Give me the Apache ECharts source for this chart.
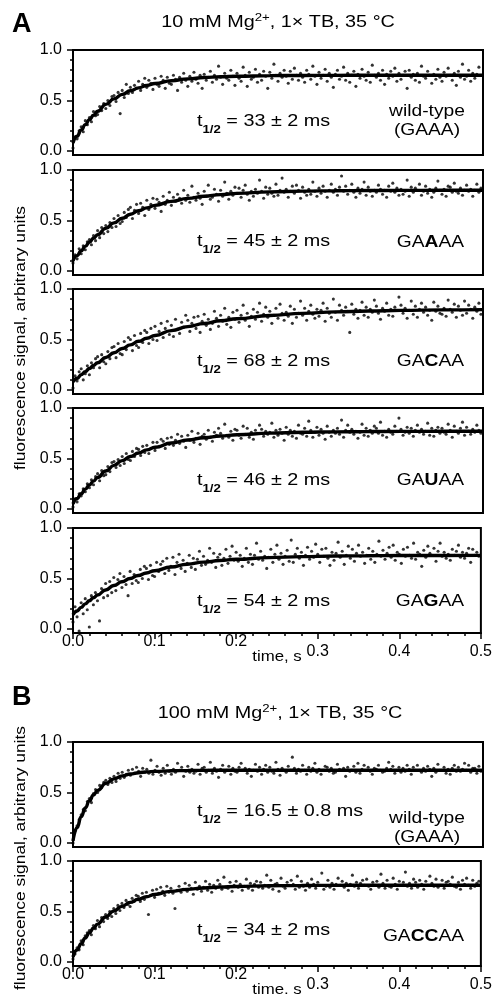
<!DOCTYPE html>
<html><head><meta charset="utf-8">
<script src="https://cdn.jsdelivr.net/npm/echarts@6/dist/echarts.min.js"></script>
<style>html,body{margin:0;padding:0;background:#fff}#c{width:495px;height:994px}</style>
</head><body><div id="c"></div>
<script>
// ---------- DATA ----------
const time = [
0,.0025,.005,.0075,.01,.0125,.015,.0175,.02,.0225,.025,.0275,.03,.0325,.035,.0375,.04,.0425,.045,.0475,
.05,.0525,.055,.0575,.06,.0625,.065,.0675,.07,.0725,.075,.0775,.08,.0825,.085,.0875,.09,.0925,.095,.0975,
.1,.1025,.105,.1075,.11,.1125,.115,.1175,.12,.1225,.125,.1275,.13,.1325,.135,.1375,.14,.1425,.145,.1475,
.15,.1525,.155,.1575,.16,.1625,.165,.1675,.17,.1725,.175,.1775,.18,.1825,.185,.1875,.19,.1925,.195,.1975,
.2,.2025,.205,.2075,.21,.2125,.215,.2175,.22,.2225,.225,.2275,.23,.2325,.235,.2375,.24,.2425,.245,.2475,
.25,.2525,.255,.2575,.26,.2625,.265,.2675,.27,.2725,.275,.2775,.28,.2825,.285,.2875,.29,.2925,.295,.2975,
.3,.3025,.305,.3075,.31,.3125,.315,.3175,.32,.3225,.325,.3275,.33,.3325,.335,.3375,.34,.3425,.345,.3475,
.35,.3525,.355,.3575,.36,.3625,.365,.3675,.37,.3725,.375,.3775,.38,.3825,.385,.3875,.39,.3925,.395,.3975,
.4,.4025,.405,.4075,.41,.4125,.415,.4175,.42,.4225,.425,.4275,.43,.4325,.435,.4375,.44,.4425,.445,.4475,
.45,.4525,.455,.4575,.46,.4625,.465,.4675,.47,.4725,.475,.4775,.48,.4825,.485,.4875,.49,.4925,.495,.4975];

const wtA = [
.03,.14,.12,.20,.24,.19,.30,.26,.33,.29,.39,.35,.36,.44,.40,.47,.42,.50,.45,.54,
.55,.49,.58,.37,.60,.53,.66,.57,.63,.58,.65,.62,.69,.60,.66,.72,.63,.70,.67,.61,
.72,.66,.64,.74,.70,.62,.73,.67,.66,.75,.71,.60,.73,.68,.77,.70,.64,.74,.69,.78,
.71,.67,.75,.62,.76,.70,.73,.79,.68,.75,.71,.84,.73,.66,.77,.72,.70,.80,.74,.65,
.77,.72,.69,.83,.75,.64,.78,.71,.73,.81,.68,.76,.70,.79,.74,.62,.78,.72,.86,.75,
.69,.77,.73,.80,.74,.67,.79,.71,.82,.75,.70,.77,.73,.68,.80,.76,.71,.84,.74,.66,
.78,.72,.75,.81,.69,.77,.73,.63,.76,.80,.71,.74,.83,.70,.77,.68,.75,.79,.64,.76,
.72,.81,.74,.70,.78,.68,.85,.75,.73,.77,.70,.80,.66,.76,.72,.79,.74,.82,.69,.77,
.71,.75,.79,.62,.80,.73,.76,.70,.77,.68,.84,.74,.72,.79,.75,.67,.76,.71,.81,.73,
.69,.78,.74,.82,.75,.70,.77,.65,.79,.73,.86,.71,.74,.80,.69,.77,.72,.76,.83,.75];

const gaaaa = [
.08,.16,.12,.22,.17,.25,.21,.29,.31,.26,.35,.30,.40,.33,.43,.37,.45,.39,.48,.43,
.52,.44,.55,.47,.49,.58,.53,.61,.63,.52,.60,.66,.57,.67,.63,.55,.70,.61,.66,.72,
.62,.71,.68,.59,.74,.66,.70,.78,.65,.73,.69,.76,.72,.67,.80,.70,.75,.68,.84,.73,
.70,.77,.72,.66,.79,.74,.85,.71,.73,.81,.76,.69,.80,.74,.88,.77,.71,.79,.75,.83,
.77,.82,.73,.80,.85,.76,.70,.79,.74,.81,.77,.90,.79,.72,.83,.76,.82,.77,.74,.86,
.75,.80,.92,.78,.81,.73,.79,.84,.77,.85,.80,.72,.83,.78,.75,.81,.76,.88,.79,.74,
.82,.77,.84,.79,.73,.80,.86,.78,.81,.75,.83,.94,.79,.84,.76,.80,.86,.78,.73,.82,
.77,.81,.88,.75,.83,.79,.74,.80,.78,.85,.81,.76,.80,.73,.84,.79,.87,.78,.82,.75,
.81,.76,.79,.90,.74,.83,.78,.82,.80,.86,.75,.79,.84,.77,.81,.73,.78,.82,.89,.80,
.76,.81,.74,.84,.83,.78,.87,.79,.77,.82,.75,.80,.85,.79,.81,.74,.80,.86,.78,.82];

const gacaa = [
.02,.14,.09,.18,.21,.10,.16,.24,.15,.27,.22,.31,.33,.22,.35,.28,.26,.38,.31,.42,
.43,.32,.46,.36,.35,.48,.40,.52,.50,.39,.54,.44,.42,.56,.47,.59,.57,.46,.61,.50,
.63,.49,.58,.66,.52,.61,.68,.55,.64,.53,.70,.60,.56,.67,.62,.74,.69,.58,.66,.72,
.61,.73,.57,.68,.75,.64,.70,.60,.66,.78,.71,.63,.74,.68,.81,.65,.72,.62,.77,.70,
.79,.67,.74,.84,.69,.76,.63,.73,.80,.70,.77,.86,.68,.75,.82,.72,.78,.66,.74,.81,
.71,.85,.76,.69,.77,.73,.83,.66,.80,.72,.76,.88,.74,.81,.69,.78,.84,.75,.71,.80,
.73,.79,.86,.68,.81,.76,.72,.90,.77,.69,.84,.79,.74,.82,.78,.57,.85,.75,.80,.71,
.79,.87,.74,.82,.72,.80,.77,.89,.83,.76,.70,.81,.78,.86,.74,.80,.73,.82,.79,.92,
.84,.76,.81,.71,.79,.88,.75,.83,.72,.80,.86,.77,.82,.74,.79,.69,.87,.78,.83,.76,
.75,.81,.73,.89,.80,.77,.85,.72,.83,.79,.74,.88,.76,.84,.80,.71,.82,.78,.86,.75];

const gauaa = [
.02,.10,.07,.15,.13,.20,.17,.25,.21,.29,.24,.32,.35,.28,.38,.33,.34,.42,.37,.46,
.47,.41,.49,.43,.52,.45,.55,.49,.48,.57,.52,.60,.59,.53,.62,.56,.63,.55,.60,.66,
.58,.66,.62,.69,.67,.60,.70,.64,.71,.63,.68,.74,.65,.72,.67,.61,.73,.68,.77,.66,
.70,.75,.64,.72,.74,.69,.78,.71,.67,.76,.73,.80,.75,.70,.84,.73,.71,.77,.68,.79,
.78,.73,.70,.82,.74,.80,.71,.76,.69,.78,.75,.83,.79,.72,.77,.74,.76,.85,.71,.78,
.73,.79,.75,.68,.81,.74,.78,.72,.77,.70,.83,.75,.74,.80,.72,.87,.78,.71,.76,.81,
.73,.79,.75,.69,.82,.76,.72,.78,.75,.80,.74,.88,.71,.78,.83,.76,.79,.74,.77,.70,
.76,.84,.73,.80,.72,.78,.75,.82,.80,.75,.86,.73,.77,.71,.79,.76,.74,.82,.77,.90,
.79,.73,.76,.81,.75,.80,.72,.78,.83,.76,.79,.74,.77,.85,.73,.80,.72,.78,.81,.75,
.80,.76,.74,.84,.78,.71,.82,.77,.75,.80,.86,.73,.81,.77,.74,.79,.76,.83,.78,.75];

const gagaa = [
.07,.22,.12,-.02,.26,.15,.30,.19,.02,.33,.24,.36,.28,.08,.40,.31,.45,.33,.47,.36,
.51,.38,.49,.55,.41,.52,.44,.33,.57,.45,.54,.48,.46,.59,.50,.62,.60,.49,.63,.53,
.52,.66,.57,.64,.67,.55,.70,.58,.62,.71,.54,.66,.74,.60,.68,.57,.65,.73,.61,.70,
.59,.69,.77,.63,.72,.64,.68,.80,.66,.75,.61,.71,.74,.63,.70,.79,.65,.72,.82,.68,
.76,.67,.73,.62,.70,.80,.66,.74,.64,.73,.85,.69,.77,.68,.72,.60,.71,.79,.66,.74,
.83,.69,.75,.64,.72,.78,.67,.88,.66,.74,.80,.70,.76,.63,.73,.81,.69,.77,.71,.84,
.74,.66,.79,.72,.80,.70,.63,.76,.68,.75,.86,.71,.77,.64,.73,.82,.70,.79,.67,.75,
.83,.72,.76,.65,.73,.80,.69,.77,.66,.74,.87,.72,.78,.69,.75,.81,.71,.83,.68,.76,
.74,.65,.79,.72,.81,.73,.70,.85,.69,.76,.74,.62,.78,.71,.82,.75,.73,.80,.67,.77,
.85,.72,.76,.70,.74,.68,.79,.73,.77,.83,.71,.76,.70,.75,.80,.66,.79,.73,.76,.72];

const wtB = [
.00,.12,.17,.23,.28,.33,.32,.41,.44,.40,.49,.53,.50,.57,.55,.60,.62,.58,.64,.60,
.66,.61,.69,.64,.70,.65,.68,.72,.67,.73,.69,.75,.71,.66,.74,.70,.73,.69,.82,.68,
.72,.76,.70,.67,.74,.69,.77,.71,.68,.73,.70,.79,.72,.75,.66,.71,.76,.70,.73,.69,
.71,.78,.68,.74,.75,.70,.72,.80,.69,.74,.71,.65,.73,.77,.70,.72,.76,.68,.74,.71,
.70,.75,.79,.72,.74,.69,.73,.66,.72,.78,.71,.75,.68,.73,.77,.70,.75,.71,.69,.80,
.73,.67,.74,.72,.70,.76,.72,.85,.74,.69,.73,.71,.77,.72,.68,.75,.71,.74,.79,.70,
.73,.68,.72,.76,.75,.71,.74,.69,.70,.78,.73,.72,.74,.66,.75,.71,.72,.76,.70,.79,
.69,.73,.77,.72,.75,.71,.68,.74,.73,.77,.72,.70,.71,.74,.80,.73,.76,.69,.72,.75,
.70,.74,.71,.77,.73,.68,.75,.72,.77,.72,.70,.74,.71,.76,.73,.66,.74,.70,.78,.72,
.72,.75,.69,.73,.68,.74,.77,.71,.75,.71,.73,.79,.72,.77,.70,.74,.74,.69,.76,.71];

const gaccaa = [
.03,.08,.14,.12,.21,.17,.26,.29,.31,.27,.36,.33,.41,.35,.44,.40,.47,.43,.50,.45,
.53,.48,.56,.51,.58,.54,.61,.57,.55,.63,.60,.66,.65,.60,.68,.62,.69,.47,.66,.71,
.64,.72,.68,.74,.70,.66,.75,.69,.73,.68,.53,.71,.75,.69,.72,.78,.70,.76,.73,.67,
.79,.72,.75,.70,.74,.80,.71,.77,.69,.76,.73,.81,.77,.72,.84,.74,.73,.79,.70,.76,
.80,.74,.77,.71,.75,.82,.73,.78,.71,.77,.80,.74,.79,.73,.76,.86,.74,.81,.72,.77,
.78,.70,.83,.75,.73,.79,.76,.81,.77,.72,.85,.74,.80,.75,.71,.78,.74,.82,.77,.73,
.79,.76,.88,.72,.75,.81,.74,.78,.72,.77,.83,.76,.80,.74,.78,.71,.77,.86,.75,.79,
.73,.78,.81,.76,.82,.75,.72,.79,.76,.80,.74,.87,.78,.73,.81,.75,.74,.83,.77,.72,
.80,.76,.79,.89,.75,.78,.73,.82,.79,.74,.81,.77,.72,.80,.76,.85,.78,.75,.82,.74,
.76,.81,.73,.79,.80,.77,.84,.75,.74,.79,.72,.81,.77,.83,.76,.73,.81,.75,.78,.80];

const fitTime = [0,.005,.01,.015,.02,.025,.03,.04,.05,.06,.07,.08,.09,.10,.12,.14,.16,.18,.20,.24,.28,.32,.36,.40,.45,.50];
const fitWtA    = [.08,.147,.207,.261,.31,.353,.393,.461,.516,.56,.596,.625,.649,.668,.696,.714,.727,.735,.74,.746,.748,.749,.75,.75,.75,.75];
const fitGaaaa  = [.10,.152,.20,.244,.285,.324,.359,.422,.476,.522,.562,.596,.625,.65,.689,.719,.74,.756,.768,.783,.791,.795,.797,.798,.799,.80];
const fitGacaa  = [.08,.116,.15,.182,.213,.242,.27,.321,.368,.41,.447,.482,.512,.54,.588,.627,.659,.685,.706,.738,.759,.773,.782,.788,.793,.796];
const fitGauaa  = [.05,.103,.151,.196,.238,.276,.312,.376,.432,.479,.52,.555,.585,.611,.653,.683,.706,.722,.735,.751,.76,.764,.767,.768,.769,.77];
const fitGagaa  = [.14,.178,.214,.248,.28,.309,.336,.386,.43,.467,.50,.53,.555,.577,.613,.641,.662,.678,.69,.707,.716,.722,.725,.727,.728,.729];
const fitWtB    = [.02,.153,.26,.347,.418,.475,.521,.59,.635,.664,.683,.696,.704,.709,.715,.718,.719,.72,.72,.72,.72,.72,.72,.72,.72,.72];
const fitGaccaa = [.05,.119,.181,.237,.288,.334,.375,.446,.504,.551,.59,.621,.646,.668,.699,.719,.733,.742,.748,.755,.758,.759,.76,.76,.76,.76];

const yMajorTicks = [0, 0.5, 1.0];
const yMinorTicks = [0.1, 0.2, 0.3, 0.4, 0.6, 0.7, 0.8, 0.9];
const xLabelsHigh = [0, 0.1, 0.2];
const xLabelsLow = [0.3, 0.4, 0.5];
const halfTimes = ['33 ± 2', '45 ± 2', '68 ± 2', '46 ± 2', '54 ± 2', '16.5 ± 0.8', '34 ± 2'];
const variants = [['wild-type', '(GAAA)'], ['GA', 'A', 'AA'], ['GA', 'C', 'AA'], ['GA', 'U', 'AA'], ['GA', 'G', 'AA'], ['wild-type', '(GAAA)'], ['GA', 'CC', 'AA']];
const titleA = ['10 mM Mg', '2+', ', 1× TB, 35 °C'];
const titleB = ['100 mM Mg', '2+', ', 1× TB, 35 °C'];
const yTitle = 'fluorescence signal, arbitrary units';
const xTitle = 'time, s';

// ---------- LAYOUT ----------
const FONT = 'Arial, "Liberation Sans", Helvetica, sans-serif';
const SX = 1.2;
const tops = [50, 170, 289, 408, 528, 742, 861];
const halfY = [122, 242, 362, 481, 602, 812, 931];
const varY = [[112, 131], 243, 362, 481, 602, [819, 838], 937];
const bottomPanels = [4, 6];
const scatterSets = [wtA, gaaaa, gacaa, gauaa, gagaa, wtB, gaccaa];
const fitSets = [fitWtA, fitGaaaa, fitGacaa, fitGauaa, fitGagaa, fitWtB, fitGaccaa];

const grid = [], xAxis = [], yAxis = [], series = [], graphic = [];
const blk = '#000';
const LBL = 16;
tops.forEach((top, i) => {
  grid.push({left: 73, width: 410, top: top, height: 105, show: true, borderColor: blk, borderWidth: 2, backgroundColor: 'transparent'});
  const isBottom = bottomPanels.includes(i);
  xAxis.push({
    gridIndex: i, type: 'value', position: 'bottom', min: 0, max: 0.5, interval: 0.1,
    axisLine: {show: true, onZero: false, lineStyle: {color: blk, width: 2}},
    axisTick: {show: isBottom, length: 6, lineStyle: {color: blk, width: 1.5}},
    minorTick: {show: isBottom, splitNumber: 5, length: 3, lineStyle: {color: blk, width: 1.5}},
    axisLabel: isBottom ? {show: true, customValues: xLabelsHigh, margin: 1, fontSize: LBL, fontFamily: FONT, color: blk, formatter: v => v.toFixed(1)} : {show: false},
    splitLine: {show: false}, minorSplitLine: {show: false}
  });
  yAxis.push({
    gridIndex: i, type: 'value', min: -0.04, max: 1.0, position: 'left',
    axisLine: {show: true, onZero: false, lineStyle: {color: blk, width: 2}},
    axisTick: {show: true, length: 6, customValues: yMajorTicks, lineStyle: {color: blk, width: 1.5}},
    axisLabel: {show: true, customValues: yMajorTicks, margin: 11, fontSize: LBL, fontFamily: FONT, color: blk, formatter: v => v.toFixed(1)},
    splitLine: {show: false}
  });
  yAxis.push({
    gridIndex: i, type: 'value', min: -0.04, max: 1.0, position: 'left', offset: 0,
    axisLine: {show: false, onZero: false},
    axisTick: {show: true, length: 3, customValues: yMinorTicks, lineStyle: {color: blk, width: 1.5}},
    axisLabel: {show: false}, splitLine: {show: false}
  });
  series.push({
    type: 'scatter', xAxisIndex: i, yAxisIndex: 2 * i, symbol: 'circle', symbolSize: 3.1,
    itemStyle: {color: blk}, silent: true,
    data: time.map((t, j) => [t, scatterSets[i][j]])
  });
  series.push({
    type: 'line', xAxisIndex: i, yAxisIndex: 2 * i, showSymbol: false, smooth: true, smoothMonotone: 'x',
    lineStyle: {color: blk, width: 3.4}, silent: true, z: 5,
    data: fitTime.map((t, j) => [t, fitSets[i][j]])
  });
  graphic.push({type: 'text', x: 197, y: halfY[i] - 9, scaleX: SX, silent: true, style: {
    text: '{n|t}{s|1/2}{n| = ' + halfTimes[i] + ' ms}', align: 'left', verticalAlign: 'top',
    rich: {n: {fontSize: 16.5, fontFamily: FONT, fill: blk, lineHeight: 22, verticalAlign: 'top'},
           s: {fontSize: 11, fontWeight: 'bold', fontFamily: FONT, fill: blk, lineHeight: 10, verticalAlign: 'bottom'}}
  }});
  const v = variants[i];
  if (v.length === 2) {
    graphic.push({type: 'text', x: 427, y: varY[i][0], scaleX: SX, silent: true, style: {text: v[0], align: 'center', verticalAlign: 'middle', fontSize: 16, fontFamily: FONT, fill: blk}});
    graphic.push({type: 'text', x: 427, y: varY[i][1], scaleX: SX, silent: true, style: {text: v[1], align: 'center', verticalAlign: 'middle', fontSize: 16, fontFamily: FONT, fill: blk}});
  } else {
    graphic.push({type: 'text', x: 464, y: varY[i], scaleX: SX, silent: true, style: {
      text: '{n|' + v[0] + '}{b|' + v[1] + '}{n|' + v[2] + '}', align: 'right', verticalAlign: 'middle',
      rich: {n: {fontSize: 16, fontFamily: FONT, fill: blk}, b: {fontSize: 16, fontWeight: 'bold', fontFamily: FONT, fill: blk}}
    }});
  }
});
bottomPanels.forEach(gi => {
  xAxis.push({
    gridIndex: gi, type: 'value', position: 'bottom', offset: 0, min: 0, max: 0.5, interval: 0.1,
    axisLine: {show: false, onZero: false}, axisTick: {show: false}, minorTick: {show: false},
    axisLabel: {show: true, customValues: xLabelsLow, margin: 11, fontSize: LBL, fontFamily: FONT, color: blk, formatter: v => v.toFixed(1)},
    splitLine: {show: false}
  });
});

function richTitle(parts, x, y) {
  return {type: 'text', x: x, y: y, scaleX: SX, silent: true, style: {
    text: '{n|' + parts[0] + '}{s|' + parts[1] + '}{n|' + parts[2] + '}', align: 'center', verticalAlign: 'middle',
    rich: {n: {fontSize: 16.5, fontFamily: FONT, fill: blk, lineHeight: 20},
           s: {fontSize: 11, fontFamily: FONT, fill: blk, lineHeight: 12, verticalAlign: 'top'}}
  }};
}
graphic.push({type: 'text', x: 12, y: 11, silent: true, style: {text: 'A', fontSize: 27, fontWeight: 'bold', fontFamily: FONT, fill: blk, align: 'left', verticalAlign: 'top'}});
graphic.push({type: 'text', x: 12, y: 684, silent: true, style: {text: 'B', fontSize: 27, fontWeight: 'bold', fontFamily: FONT, fill: blk, align: 'left', verticalAlign: 'top'}});
graphic.push(richTitle(titleA, 278, 22));
graphic.push(richTitle(titleB, 280, 713));
[338, 858].forEach(cy => graphic.push({type: 'text', x: 21, y: cy, rotation: Math.PI / 2, scaleX: SX, silent: true,
  style: {text: yTitle, align: 'center', verticalAlign: 'middle', fontSize: 14.5, fontFamily: FONT, fill: blk}}));
[657, 990].forEach(cy => graphic.push({type: 'text', x: 277, y: cy, scaleX: SX, silent: true,
  style: {text: xTitle, align: 'center', verticalAlign: 'middle', fontSize: 14, fontFamily: FONT, fill: blk}}));

const chart = echarts.init(document.getElementById('c'), null, {renderer: 'canvas'});
chart.setOption({
  animation: false, backgroundColor: '#fff',
  grid: grid, xAxis: xAxis, yAxis: yAxis, series: series, graphic: graphic
});
</script></body></html>
